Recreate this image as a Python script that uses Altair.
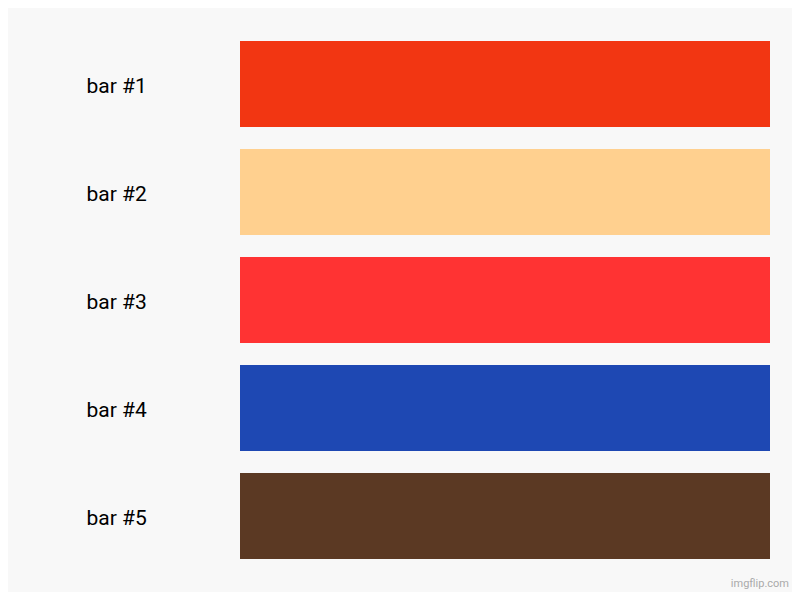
import altair as alt
import pandas as pd

labels = ["bar #1", "bar #2", "bar #3", "bar #4", "bar #5"]
values = [1, 1, 1, 1, 1]
colors = ["#F23612", "#FFD08F", "#FF3333", "#1E48B3", "#5B3923"]
watermark = ["imgflip.com"]

df = pd.DataFrame({"label": labels, "value": values, "color": colors})

bars = alt.Chart(df).mark_bar().encode(
    y=alt.Y("label:N", sort=labels, title=None,
            scale=alt.Scale(paddingInner=0.2037, paddingOuter=0.1019),
            axis=alt.Axis(ticks=False, domain=False, labelAlign="left",
                          labelPadding=154, labelFont="Roboto", labelFontSize=21,
                          labelOffset=3,
                          labelColor="#000000", labelLimit=200)),
    x=alt.X("value:Q", axis=None, scale=alt.Scale(domain=[0, 1], nice=False)),
    color=alt.Color("color:N", scale=None),
)

wm = alt.Chart(pd.DataFrame({"t": watermark})).mark_text(
    align="right", baseline="alphabetic", font="Roboto", fontSize=11, color="#aaaaaa"
).encode(text="t:N", x=alt.value(549), y=alt.value(557))

chart = alt.layer(bars, wm).properties(
    width=530, height=540,
    autosize=alt.AutoSizeParams(type="none"),
    padding={"left": 232, "top": 22, "right": 22, "bottom": 22},
).configure(background="#f8f8f8").configure_view(stroke=None)

chart.save("out.html", embed_options={"renderer": "svg", "actions": False})
